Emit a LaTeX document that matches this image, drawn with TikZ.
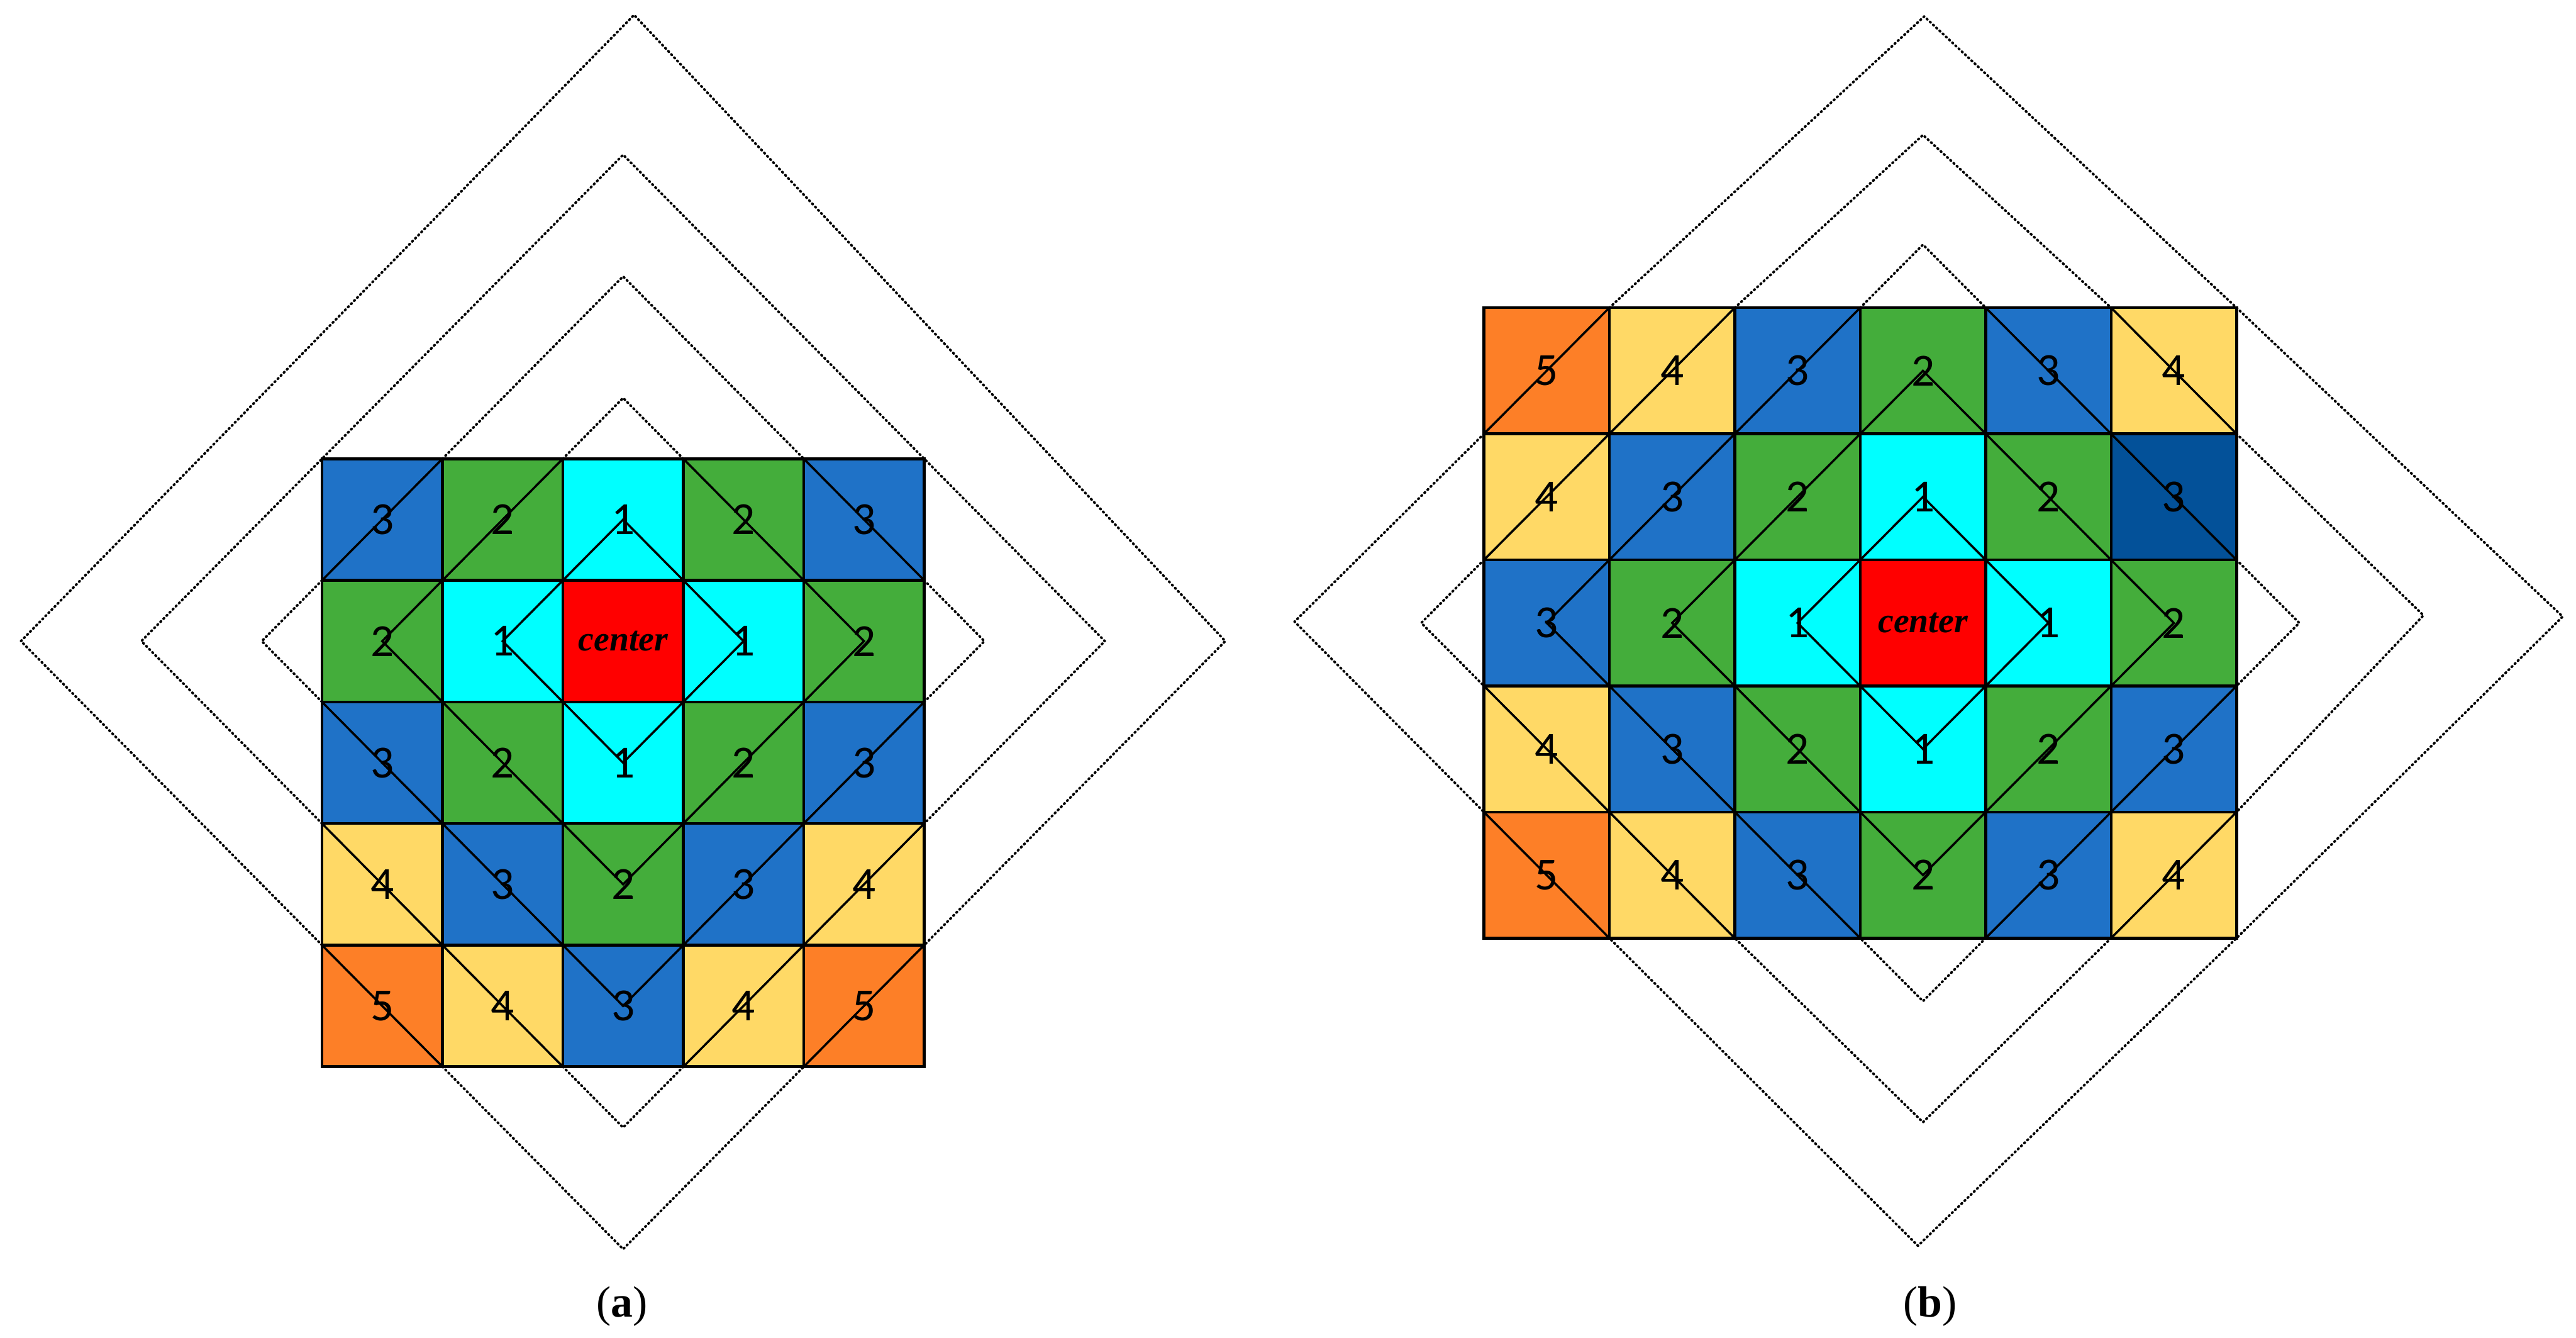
\documentclass[tikz,border=0pt]{standalone}
\usepackage{fontspec}
\newfontfamily\numfont{Carlito}
\newfontfamily\serfont{Liberation Serif}
\definecolor{c1}{RGB}{0,255,255}
\definecolor{c2}{RGB}{68,173,59}
\definecolor{c3}{RGB}{31,114,199}
\definecolor{c4}{RGB}{255,217,102}
\definecolor{c5}{RGB}{253,127,39}
\definecolor{cc}{RGB}{255,0,0}
\definecolor{cd}{RGB}{3,81,153}
\newcommand\ctrtxt{{\serfont\bfseries\itshape\fontsize{16}{19}\selectfont center}}
\tikzset{
  cellbox/.style={draw=black, line width=1.3pt},
  diag/.style={draw=black, line width=1.0pt, line join=miter},
  dotline/.style={draw=black, line width=1.15pt, dash pattern=on 0.012cm off 0.058cm, line cap=round, line join=round},
  num/.style={font=\numfont\fontsize{21}{25}\selectfont, inner sep=0pt},
  captext/.style={font=\serfont\fontsize{20}{24}\selectfont, anchor=base, inner sep=0pt}
}
\begin{document}
\begin{tikzpicture}
\useasboundingbox (0,0) rectangle (41.28,-21.43);
\fill[white] (0,0) rectangle (41.28,-21.43);

% ---------------- panel (a) ----------------
\begin{scope}[xshift=5.16cm, yshift=-7.35cm, x=1.93cm, y=-1.948cm]
  % dotted parts outside the grid
  \draw[dotline] (2,0) -- (2.5,-0.5) -- (3,0);
  \draw[dotline] (0,1) -- (-0.5,1.5) -- (0,2);
  \draw[dotline] (1,0) -- (2.5,-1.5) -- (4,0);
  \draw[dotline] (5,1) -- (5.5,1.5) -- (5,2);
  \draw[dotline] (0,3) -- (-1.5,1.5) -- (2.5,-2.5) -- (6.5,1.5) -- (5,3);
  \draw[dotline] (2,5) -- (2.5,5.5) -- (3,5);
  \draw[dotline] (0,4) -- (-2.5,1.5) -- (2.591,-3.65) -- (7.5,1.5) -- (5,4);
  \draw[dotline] (1,5) -- (2.5,6.5) -- (4,5);
  % cells
  \foreach \row [count=\j from 0] in {
      {c3/3,c2/2,c1/1,c2/2,c3/3},
      {c2/2,c1/1,cc/\ctrtxt,c1/1,c2/2},
      {c3/3,c2/2,c1/1,c2/2,c3/3},
      {c4/4,c3/3,c2/2,c3/3,c4/4},
      {c5/5,c4/4,c3/3,c4/4,c5/5}}{
    \foreach \c/\t [count=\i from 0] in \row {
      \filldraw[cellbox, fill=\c] (\i,\j) rectangle ++(1,1);
    }
  }
  % solid diamonds inside the grid
  \begin{scope}
    \clip (0,0) rectangle (5,5);
    \foreach \d in {1,...,5}
      \draw[diag] (2.5-\d,1.5) -- (2.5,1.5-\d) -- (2.5+\d,1.5) -- (2.5,1.5+\d) -- cycle;
  \end{scope}
  % labels
  \foreach \row [count=\j from 0] in {
      {c3/3,c2/2,c1/1,c2/2,c3/3},
      {c2/2,c1/1,cc/\ctrtxt,c1/1,c2/2},
      {c3/3,c2/2,c1/1,c2/2,c3/3},
      {c4/4,c3/3,c2/2,c3/3,c4/4},
      {c5/5,c4/4,c3/3,c4/4,c5/5}}{
    \foreach \c/\t [count=\i from 0] in \row {
      \node[num] (a-\i-\j) at (\i+0.5,\j+0.5) {\t};
    }
  }
\end{scope}

% ---------------- panel (b) ----------------
\begin{scope}[xshift=23.78cm, yshift=-4.93cm, x=2.01cm, y=-2.02cm]
  \draw[dotline] (3,0) -- (3.5,-0.5) -- (4,0);
  \draw[dotline] (6,2) -- (6.5,2.5) -- (6,3);
  \draw[dotline] (4,5) -- (3.5,5.5) -- (3,5);
  \draw[dotline] (0,2) -- (-0.5,2.5) -- (0,3);
  \draw[dotline] (2,0) -- (3.5,-1.37) -- (5,0);
  \draw[dotline] (6,1) -- (7.49,2.44) -- (6,4);
  \draw[dotline] (5,5) -- (3.5,6.46) -- (2,5);
  \draw[dotline] (0,1) -- (-1.51,2.49) -- (0,4);
  \draw[dotline] (1,0) -- (3.51,-2.31) -- (6,0) -- (8.6,2.45) -- (6,5) -- (3.46,7.44) -- (1,5);
  \foreach \row [count=\j from 0] in {
      {c5/5,c4/4,c3/3,c2/2,c3/3,c4/4},
      {c4/4,c3/3,c2/2,c1/1,c2/2,cd/3},
      {c3/3,c2/2,c1/1,cc/\ctrtxt,c1/1,c2/2},
      {c4/4,c3/3,c2/2,c1/1,c2/2,c3/3},
      {c5/5,c4/4,c3/3,c2/2,c3/3,c4/4}}{
    \foreach \c/\t [count=\i from 0] in \row {
      \filldraw[cellbox, fill=\c] (\i,\j) rectangle ++(1,1);
    }
  }
  \begin{scope}
    \clip (0,0) rectangle (6,5);
    \foreach \d in {1,...,5}
      \draw[diag] (3.5-\d,2.5) -- (3.5,2.5-\d) -- (3.5+\d,2.5) -- (3.5,2.5+\d) -- cycle;
  \end{scope}
  \foreach \row [count=\j from 0] in {
      {c5/5,c4/4,c3/3,c2/2,c3/3,c4/4},
      {c4/4,c3/3,c2/2,c1/1,c2/2,cd/3},
      {c3/3,c2/2,c1/1,cc/\ctrtxt,c1/1,c2/2},
      {c4/4,c3/3,c2/2,c1/1,c2/2,c3/3},
      {c5/5,c4/4,c3/3,c2/2,c3/3,c4/4}}{
    \foreach \c/\t [count=\i from 0] in \row {
      \node[num] (b-\i-\j) at (\i+0.5,\j+0.5) {\t};
    }
  }
\end{scope}

% captions
\node[captext] (capa) at (9.97,-21.10) {(\textbf{a})};
\node[captext] (capb) at (30.93,-21.10) {(\textbf{b})};
\end{tikzpicture}
\end{document}
